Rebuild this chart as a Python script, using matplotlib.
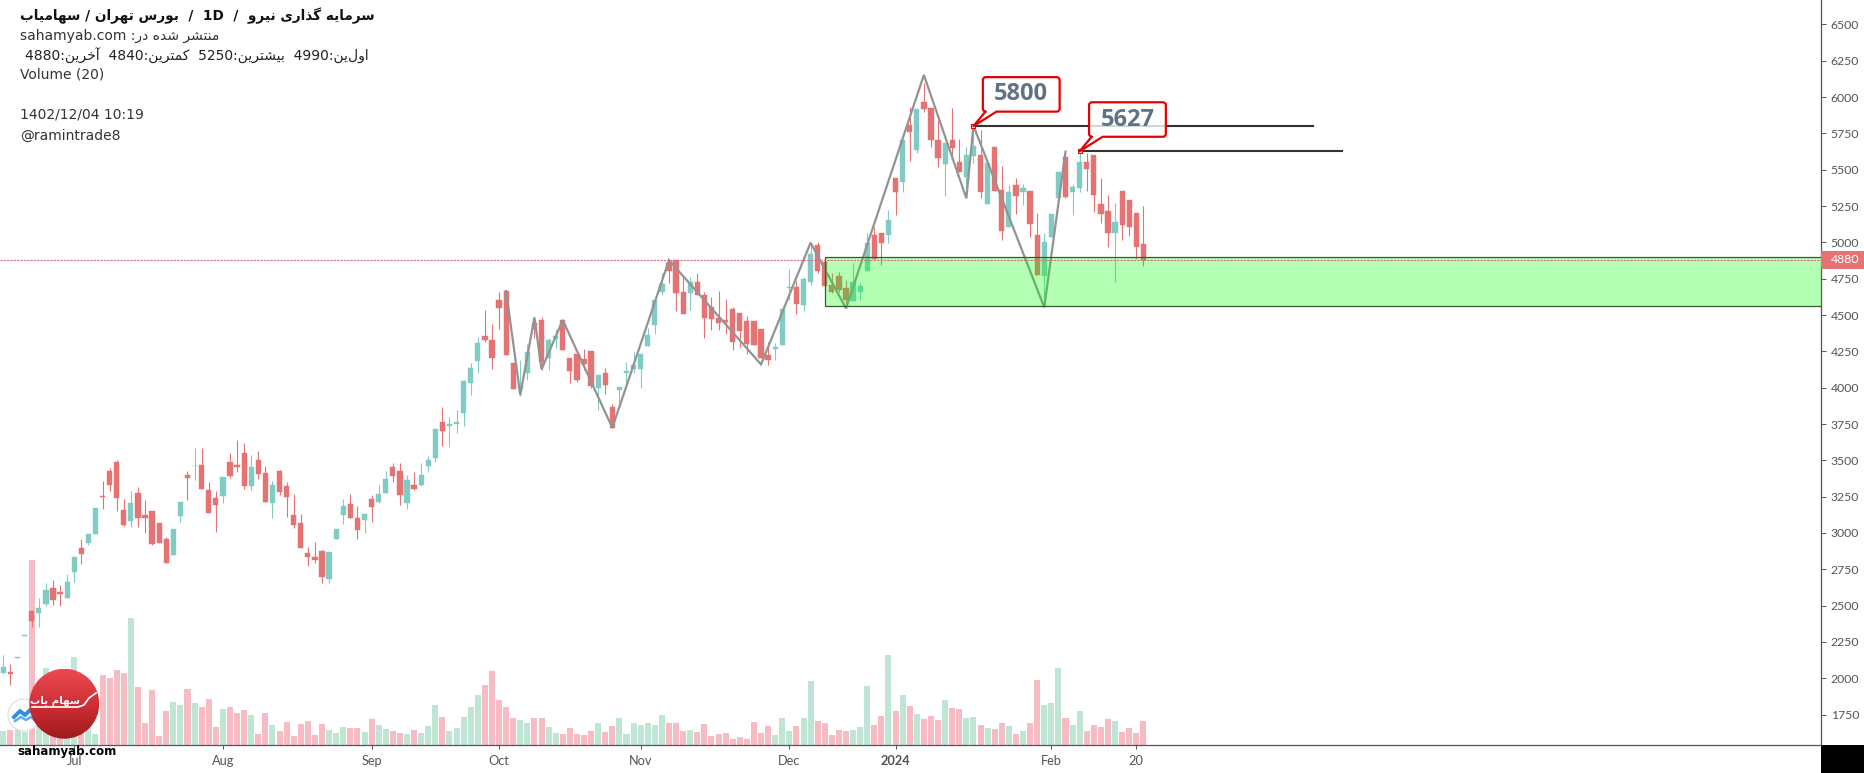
import matplotlib
matplotlib.use("Agg")
import matplotlib.pyplot as plt
import numpy as np
from matplotlib.colors import LinearSegmentedColormap
from matplotlib.patches import Circle, PathPatch, Rectangle
from matplotlib.path import Path

W, H = 1864, 773

opens = [2039,2045,2142,2294,2461,2447,2511,2619,2592,2555,2734,2894,2929,2993,3255,3429,3491,3158,3085,3273,
         3122,3149,3066,2959,2849,3117,3399,3458,3468,3296,3239,3257,3491,3468,3548,3326,3502,3411,3204,3427,
         3326,3124,3066,2860,2833,2876,2681,2959,3126,3197,3101,3089,3232,3216,3278,3452,3427,3204,3330,3330,
         3463,3513,3761,3734,3747,3828,4034,4186,4353,4328,4603,4665,4170,3991,4098,4442,4465,4202,4337,4465,
         4204,4229,4195,4250,3995,4098,3869,3986,4098,4126,4128,4286,4433,4660,4855,4878,4658,4654,4729,4637,
         4557,4477,4465,4541,4514,4459,4459,4404,4225,4268,4293,4683,4695,4569,4729,4982,4863,4707,4768,4684,
         4599,4661,4805,5051,5062,5053,5441,5418,5808,5636,5964,5922,5704,5539,5704,5551,5452,5594,5601,5264,
         5654,5360,5108,5392,5349,5353,5051,4771,5039,5308,5585,5349,5376,5551,5601,5264,5216,5062,5351,5292,
         5200,4990]
highs = [2160,2098,2146,2298,2465,2550,2658,2677,2642,2718,2833,2959,2991,3170,3360,3445,3502,3234,3289,3319,
         3227,3149,3066,2975,3025,3211,3429,3583,3583,3349,3291,3383,3548,3640,3622,3537,3567,3463,3360,3434,
         3349,3268,3131,2901,2940,2883,2867,3025,3232,3266,3188,3128,3261,3330,3427,3484,3479,3399,3417,3484,
         3530,3713,3869,3796,3846,4053,4167,4351,4534,4438,4660,4665,4170,4190,4298,4484,4484,4339,4401,4465,
         4204,4229,4264,4250,4087,4133,3887,4002,4174,4248,4231,4408,4603,4787,4883,4878,4764,4759,4787,4660,
         4621,4667,4608,4557,4514,4493,4459,4404,4316,4309,4541,4816,4736,4759,4998,5000,4902,4787,4794,4741,
         4856,4718,5062,5108,5062,5223,5441,5704,5934,5915,6094,5922,5842,5681,5927,5711,5654,5803,5773,5544,
         5654,5526,5392,5441,5402,5353,5200,5062,5195,5482,5624,5402,5624,5617,5601,5445,5326,5269,5351,5292,
         5200,5250]
lows = [2034,1954,2142,2294,2355,2355,2500,2504,2500,2555,2665,2787,2917,2993,3165,3291,3154,3048,3044,3039,
        3002,2917,2933,2791,2849,3078,3227,3365,3303,3140,3009,3209,3381,3417,3303,3296,3372,3216,3101,3261,
        3112,3032,2899,2773,2796,2654,2658,2957,3062,3101,2959,3002,3078,3204,3278,3353,3193,3163,3296,3325,
        3422,3490,3598,3594,3690,3736,3949,4098,4312,4128,4403,4225,3993,3945,4052,4339,4121,4121,4270,4259,
        4034,4041,4121,3995,3846,3956,3724,3869,4007,4098,3995,4286,4369,4637,4722,4530,4507,4534,4637,4339,
        4397,4397,4369,4259,4282,4229,4293,4202,4156,4190,4293,4603,4507,4530,4706,4790,4690,4654,4661,4546,
        4599,4603,4805,4879,4844,4993,5188,5349,5562,5613,5899,5659,5521,5319,5590,5487,5314,5544,5303,5264,
        5356,5016,5108,5195,5257,5035,4775,4569,5039,5308,5303,5188,5349,5353,5211,5131,4970,4730,5016,5044,
        4883,4840]
closes = [2076,2033,2146,2298,2397,2482,2608,2539,2582,2660,2833,2855,2991,3170,3248,3330,3243,3055,3204,3101,
          3105,2924,2933,2791,3025,3211,3381,3463,3303,3140,3193,3383,3395,3456,3326,3452,3406,3216,3330,3284,
          3250,3055,2899,2837,2814,2699,2867,3025,3186,3101,3021,3128,3181,3266,3369,3395,3261,3365,3303,3399,
          3502,3713,3704,3747,3761,4046,4133,4305,4328,4206,4550,4225,3993,4025,4247,4401,4179,4328,4355,4259,
          4117,4052,4163,4011,4087,4020,3724,4002,4112,4153,4231,4362,4603,4711,4803,4654,4507,4725,4637,4481,
          4472,4447,4449,4316,4392,4298,4293,4202,4190,4282,4541,4695,4576,4748,4920,4805,4700,4661,4672,4603,
          4729,4700,4993,4883,4998,5154,5349,5704,5762,5915,5915,5704,5583,5681,5652,5487,5601,5663,5349,5544,
          5356,5080,5347,5321,5372,5126,4775,5002,5195,5482,5310,5379,5553,5507,5328,5195,5067,5138,5122,5108,
          4970,4880]
volumes = [42,45,47,40,555,100,230,170,160,180,263,100,55,33,210,202,225,216,381,174,
           65,165,27,102,128,120,168,125,115,137,53,107,114,95,105,90,33,95,60,42,
           69,27,63,72,30,63,45,36,54,51,51,39,78,60,48,42,36,33,46,36,
           58,121,84,42,51,84,114,151,181,223,136,114,82,76,66,82,82,54,36,34,
           52,34,30,42,66,40,58,81,34,66,60,66,60,90,66,66,42,46,39,64,
           28,33,36,19,24,19,70,36,58,30,81,42,58,81,193,73,67,30,46,42,
           46,54,178,61,88,271,103,151,118,94,79,88,76,136,112,109,82,84,61,52,
           49,67,58,34,43,67,196,121,127,232,82,61,103,43,61,55,79,73,40,52,
           37,73]

# zigzag drawn over the candles
zig_idx = [71,73,75,76,79,86,94,107,114,119,130,136,137,147,150]
zig_price = [4665,3949,4484,4126,4465,3724,4878,4160,4998,4546,6152,5303,5803,4553,5624]

y_ticks = list(range(1750, 6750, 250))
x_tick_idx = [10,31,52,70,90,111,126,148,160]
x_tick_labels = ["Jul","Aug","Sep","Oct","Nov","Dec","2024","Feb","20"]

last_price = 4880
zone_low, zone_high = 4564, 4902
zone_start = 116
level_1 = (137, 185, 5800)
level_2 = (152, 189, 5627)

TEAL = "#80cbc4"
RED = "#e57373"
TEAL_VOL = "#bfe5d5"
RED_VOL = "#f7bcc3"

# matplotlib has no shaping for persian, so join the letters by hand
FORMS = {
    "ا": (0xFE8D, 0xFE8E), "آ": (0xFE81, 0xFE82), "د": (0xFEA9, 0xFEAA), "ذ": (0xFEAB, 0xFEAC),
    "ر": (0xFEAD, 0xFEAE), "ز": (0xFEAF, 0xFEB0), "و": (0xFEED, 0xFEEE),
    "ب": (0xFE8F, 0xFE90, 0xFE91, 0xFE92), "ت": (0xFE95, 0xFE96, 0xFE97, 0xFE98),
    "خ": (0xFEA5, 0xFEA6, 0xFEA7, 0xFEA8), "س": (0xFEB1, 0xFEB2, 0xFEB3, 0xFEB4),
    "ش": (0xFEB5, 0xFEB6, 0xFEB7, 0xFEB8), "م": (0xFEE1, 0xFEE2, 0xFEE3, 0xFEE4),
    "ن": (0xFEE5, 0xFEE6, 0xFEE7, 0xFEE8), "ه": (0xFEE9, 0xFEEA, 0xFEEB, 0xFEEC),
    "ی": (0xFBFC, 0xFBFD, 0xFBFE, 0xFBFF), "گ": (0xFB92, 0xFB93, 0xFB94, 0xFB95),
    "ک": (0xFB8E, 0xFB8F, 0xFB90, 0xFB91),
}


def fa(text):
    out = []
    for i, ch in enumerate(text):
        if ch not in FORMS:
            out.append(ch)
            continue
        forms = FORMS[ch]
        prev_joins = i > 0 and text[i - 1] in FORMS and len(FORMS[text[i - 1]]) == 4
        next_joins = i < len(text) - 1 and text[i + 1] in FORMS and len(forms) == 4
        if prev_joins and next_joins:
            code = forms[3]
        elif prev_joins:
            code = forms[1]
        elif next_joins:
            code = forms[2]
        else:
            code = forms[0]
        out.append(chr(code))
    return "".join(reversed(out))


fig = plt.figure(figsize=(W / 100, H / 100), dpi=100, facecolor="white")
ax = fig.add_axes([0, (H - 745) / H, 1821 / W, 745 / H])
vol_ax = ax.twinx()
ax.set_zorder(vol_ax.get_zorder() + 1)
ax.patch.set_visible(False)

x = np.arange(len(closes))
o = np.array(opens)
c = np.array(closes)
up = c >= o
colors = [TEAL if u else RED for u in up]
vol_colors = [TEAL_VOL if u else RED_VOL for u in up]

vol_ax.bar(x, volumes, width=0.85, color=vol_colors, linewidth=0)
vol_ax.set_ylim(0, 745 * 3)
vol_ax.set_yticks([])
for s in vol_ax.spines.values():
    s.set_visible(False)

ax.vlines(x, lows, highs, colors=colors, linewidth=0.8, zorder=2)
ax.bar(x, np.abs(c - o), bottom=np.minimum(o, c), width=0.74, color=colors,
       edgecolor=colors, linewidth=0.3, zorder=2)

ax.plot(zig_idx, zig_price, color="#939393", linewidth=1.6, solid_joinstyle="miter", zorder=3)

ax.set_xlim(-0.48, 256.7)
ax.set_ylim(1541, 6668)

# green support zone, runs past the axis so no right edge shows
ax.add_patch(Rectangle((zone_start, zone_low), 260 - zone_start, zone_high - zone_low,
                       facecolor=(0, 1, 0, 0.29), edgecolor="#2f5f2f", linewidth=0.9, zorder=4))
ax.axhline(last_price, color="#d9707f", linewidth=0.8, linestyle=(0, (2, 1)), zorder=5)

for start, end, price in (level_1, level_2):
    ax.plot([start, end], [price, price], color="#333333", linewidth=1.5, zorder=5)
    ax.plot([start], [price], marker="s", markersize=2.5, markerfacecolor="white",
            markeredgecolor="#e60000", markeredgewidth=0.8, zorder=7)

ax.yaxis.tick_right()
ax.set_yticks(y_ticks)
ax.set_xticks(x_tick_idx)
ax.set_xticklabels(x_tick_labels)
ax.tick_params(axis="y", length=3.6, width=0.7, color="#555555", pad=3.5, labelsize=8.8,
               labelcolor="#555555", labelfontfamily="Lato")
ax.tick_params(axis="x", length=3, width=0.7, color="#555555", pad=4.5, labelsize=9.2,
               labelcolor="#555555", labelfontfamily="Lato")
ax.get_xticklabels()[6].set_fontweight("bold")
for name in ("left", "top"):
    ax.spines[name].set_visible(False)
for name in ("right", "bottom"):
    ax.spines[name].set_color("#555555")
    ax.spines[name].set_linewidth(0.9)

# price tag on the axis
tag = ax.get_yaxis_transform()
ax.add_patch(Rectangle((1, last_price - 62), 43 / 1821, 124, transform=tag, facecolor=RED,
                       edgecolor="none", clip_on=False, zorder=6))
ax.text(1 + 10 / 1821, last_price, str(last_price), transform=tag, color="white", fontsize=8.8,
        family="Lato", va="center", ha="left", zorder=7, clip_on=False)

# overlay in pixel coordinates for header, callouts and logo
over = fig.add_axes([0, 0, 1, 1], zorder=10)
over.patch.set_visible(False)
over.axis("off")

over.add_patch(Rectangle((1821, 745), 43, 28, facecolor="black", edgecolor="none"))

title = f"{fa('سهامیاب')} / {fa('بورس تهران')}  /  1D  /  {fa('سرمایه گذاری نیرو')}"
over.text(20.5, 15.5, title, fontsize=9.8, fontweight="bold", color="#111111", va="center",
          family="DejaVu Sans")
over.text(20, 36, f"sahamyab.com :{fa('منتشر شده در')}", fontsize=10, color="#333333", va="center")
ohlc_line = f"4880:{fa('آخرین')}  4840:{fa('کمترین')}  5250:{fa('بیشترین')}  4990:{fa('اولین')}"
over.text(25, 55.5, ohlc_line, fontsize=10, color="#222222", va="center")
over.text(20, 75, "Volume (20)", fontsize=10, color="#333333", va="center")
over.text(20, 115, "1402/12/04 10:19", fontsize=10, color="#333333", va="center")
over.text(20, 135.5, "@ramintrade8", fontsize=10, color="#333333", va="center")


def callout(idx, price, label, alpha):
    tip_x, tip_y = ax.transData.transform((idx, price))
    tip_y = H - tip_y
    x0, x1 = tip_x + 9.4, tip_x + 86.2
    y0, y1 = tip_y - 49, tip_y - 14.5
    r = 3
    verts = [(x0 + r, y0), (x1 - r, y0), (x1, y0), (x1, y0 + r), (x1, y1 - r), (x1, y1), (x1 - r, y1),
             (tip_x + 23, y1), (tip_x, tip_y), (tip_x + 12, y1), (x0 + r, y1), (x0, y1), (x0, y1 - r),
             (x0, y0 + r), (x0, y0), (x0 + r, y0)]
    codes = [Path.MOVETO, Path.LINETO, Path.CURVE3, Path.CURVE3, Path.LINETO, Path.CURVE3, Path.CURVE3,
             Path.LINETO, Path.LINETO, Path.LINETO, Path.LINETO, Path.CURVE3, Path.CURVE3,
             Path.LINETO, Path.CURVE3, Path.CURVE3]
    over.add_patch(PathPatch(Path(verts, codes), facecolor=(1, 1, 1, alpha), edgecolor="#e60000",
                             linewidth=1.6, joinstyle="round"))
    over.text((x0 + x1) / 2, (y0 + y1) / 2, label, fontsize=17, fontweight="bold", color="#607385",
              ha="center", va="center", family="Open Sans")


callout(level_1[0], level_1[2], "5800", 1)
callout(level_2[0], level_2[2], "5627", 0.8)

# sahamyab logo in the corner
over.add_patch(Circle((24, 715), 16, facecolor="white", edgecolor="#dddddd", linewidth=0.8))
over.plot([14, 20, 25, 30, 36], [717, 711, 715, 710, 715], color="#2f8fe0", linewidth=2.8)
over.plot([15, 21, 26, 31, 36], [721, 717, 720, 717, 721], color="#5fb0ef", linewidth=1.8)

cmap = LinearSegmentedColormap.from_list("logo", ["#ea4a50", "#cf2f36", "#a01a1e"])
grad = over.imshow(np.linspace(0, 1, 70).reshape(-1, 1), extent=(29.3, 99.3, 738.7, 668.7), cmap=cmap,
                   aspect="auto", zorder=3)
grad.set_clip_path(Circle((64.3, 703.7), 35, transform=over.transData))
over.text(55, 701, fa("سهام یاب"), fontsize=7.4, fontweight="bold", color="white", ha="center",
          va="center", zorder=4)
over.plot([32, 78, 84, 89, 96], [707, 707, 705, 698, 693], color="white", linewidth=1.2, zorder=4)

over.text(17, 751.5, "sahamyab.com", fontsize=8.5, fontweight="bold", color="black", va="center", zorder=5)

over.set_xlim(0, W)
over.set_ylim(H, 0)

fig.savefig("out.png", dpi=100)
